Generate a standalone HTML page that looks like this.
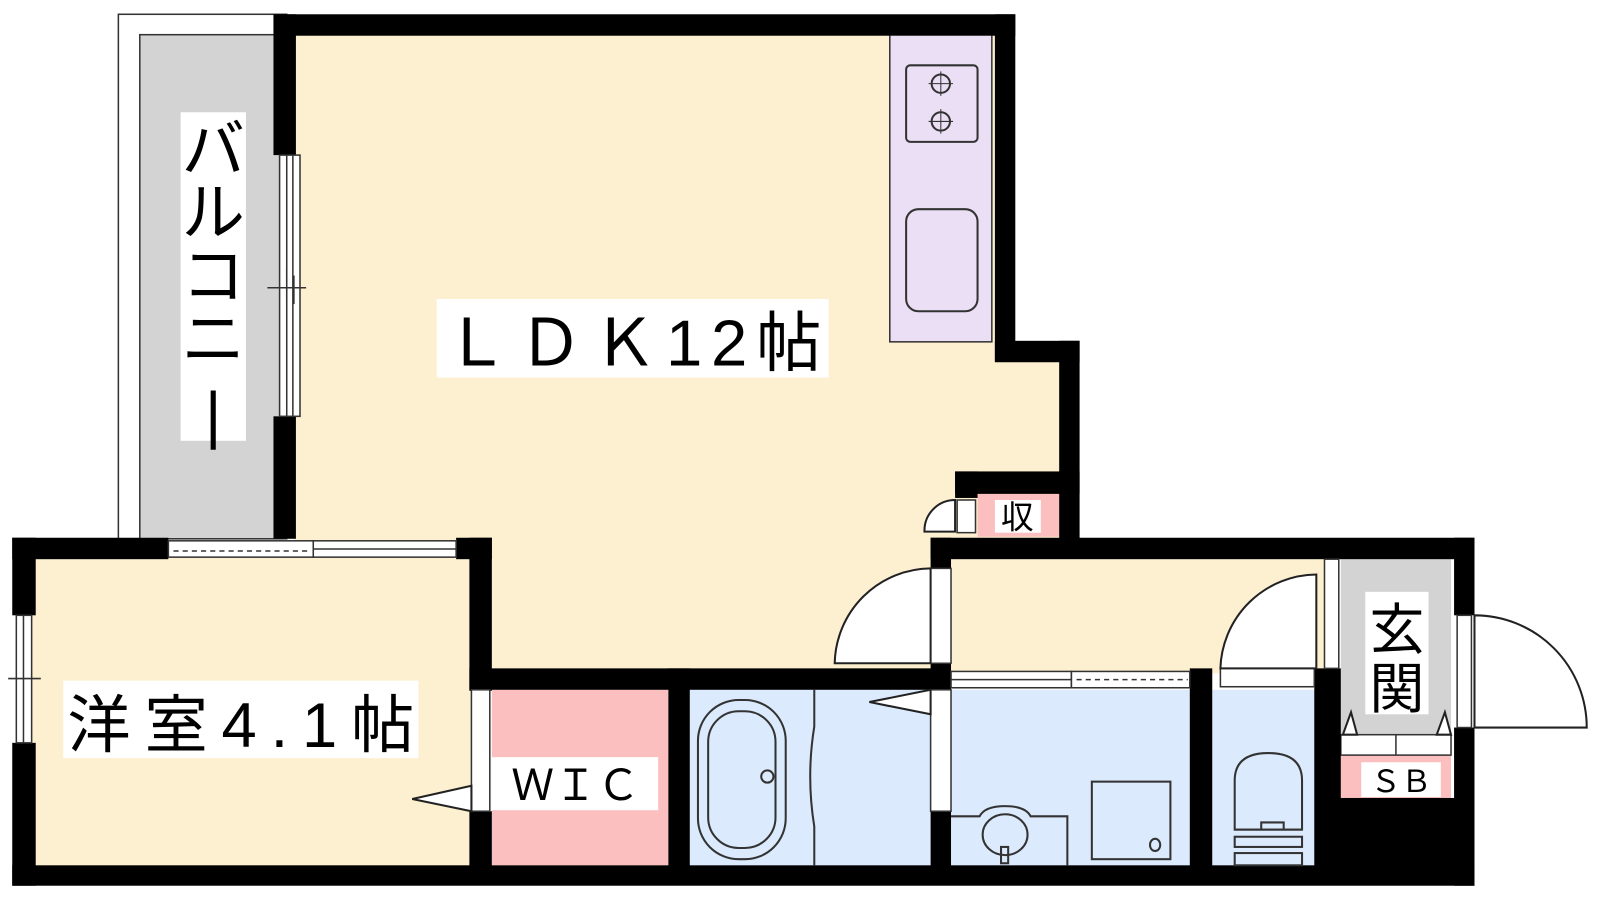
<!DOCTYPE html>
<html><head><meta charset="utf-8"><style>
html,body{margin:0;padding:0;background:#fff;width:1600px;height:900px;overflow:hidden}
svg{display:block}
text{font-family:"Liberation Sans","Noto Sans CJK JP",sans-serif}
</style></head><body>
<svg width="1600" height="900" viewBox="0 0 1568 882" preserveAspectRatio="none" xmlns="http://www.w3.org/2000/svg">
<!-- balcony -->
<rect x="116" y="14" width="165" height="514" fill="#fff" stroke="#333" stroke-width="1.5"/>
<rect x="137" y="34" width="140" height="494" fill="#d3d3d3" stroke="#333" stroke-width="1.5"/>
<!-- room fills -->
<rect x="288" y="34" width="690" height="630" fill="#fdf0d0"/>
<rect x="978" y="352" width="62" height="180" fill="#fdf0d0"/>
<rect x="30" y="545" width="435" height="305" fill="#fdf0d0"/>
<rect x="930" y="545" width="370" height="115" fill="#fdf0d0"/>
<rect x="872" y="34" width="100" height="301" fill="#ebdff5" stroke="#333" stroke-width="1.5"/>
<rect x="482" y="676" width="173" height="172" fill="#fcbfbf"/>
<rect x="676" y="676" width="236" height="172" fill="#dbeafc"/>
<rect x="932" y="676" width="234" height="172" fill="#dbeafc"/>
<rect x="1188" y="676" width="108" height="172" fill="#dbeafc"/>
<rect x="1314" y="548" width="108" height="172" fill="#d3d3d3"/>
<rect x="1314" y="740" width="108" height="42" fill="#fcbfbf"/>
<rect x="1314" y="720" width="108" height="20" fill="#fff" stroke="#333" stroke-width="1.5"/>
<line x1="1368" y1="720" x2="1368" y2="740" stroke="#333" stroke-width="1.5"/>
<rect x="958" y="484" width="80" height="42" fill="#fcbfbf"/>
<!-- walls -->
<g fill="#000">
<rect x="268" y="14" width="727" height="21"/>
<rect x="268" y="14" width="22" height="138"/>
<rect x="268" y="408" width="22" height="120"/>
<rect x="975" y="14" width="20" height="340"/>
<rect x="975" y="334" width="83" height="21"/>
<rect x="1038" y="334" width="20" height="213"/>
<rect x="936" y="462" width="122" height="22"/>
<rect x="936" y="462" width="22" height="26"/>
<rect x="912" y="527" width="533" height="21"/>
<rect x="912" y="527" width="20" height="30"/>
<rect x="1425" y="527" width="20" height="76"/>
<rect x="1425" y="713" width="20" height="155"/>
<rect x="12" y="527" width="153" height="21"/>
<rect x="447" y="527" width="35" height="21"/>
<rect x="12" y="527" width="23" height="76"/>
<rect x="12" y="728" width="23" height="140"/>
<rect x="12" y="848" width="1433" height="20"/>
<rect x="460" y="527" width="22" height="150"/>
<rect x="460" y="795" width="22" height="60"/>
<rect x="460" y="655" width="472" height="21"/>
<rect x="655" y="655" width="21" height="200"/>
<rect x="912" y="650" width="20" height="26"/>
<rect x="912" y="795" width="20" height="60"/>
<rect x="1166" y="655" width="22" height="200"/>
<rect x="1288" y="655" width="26" height="200"/>
<rect x="1296" y="782" width="130" height="70"/>
</g>
<!-- windows -->
<g fill="#fff" stroke="#333" stroke-width="1.5">
<rect x="274" y="152" width="20" height="256"/>
<rect x="165" y="530" width="142" height="16"/>
<rect x="307" y="530" width="140" height="16"/>
<rect x="16" y="603" width="15" height="125"/>
<rect x="932" y="658" width="118" height="16"/>
<rect x="1050" y="658" width="116" height="16"/>
<rect x="1298" y="548" width="14" height="107"/>
<rect x="1428" y="603" width="14" height="110"/>
<rect x="462" y="676" width="18" height="119"/>
<rect x="912" y="557" width="20" height="93"/>
<rect x="912" y="676" width="20" height="119"/>
<rect x="1196" y="655" width="92" height="18"/>
<rect x="938" y="490" width="18" height="32"/>
</g>
<g stroke="#333" stroke-width="1.5" fill="none">
<line x1="281" y1="152" x2="281" y2="408"/><line x1="287" y1="152" x2="287" y2="408"/>
<line x1="262" y1="282" x2="300" y2="282"/><line x1="281" y1="262" x2="281" y2="292"/><line x1="288" y1="270" x2="288" y2="298"/>
<line x1="170" y1="540" x2="305" y2="540" stroke-dasharray="5,4"/>
<line x1="307" y1="538" x2="447" y2="538"/>
<line x1="23" y1="603" x2="23" y2="728"/><line x1="8" y1="665" x2="40" y2="665"/>
<line x1="1055" y1="666" x2="1164" y2="666" stroke-dasharray="5,4"/>
<line x1="932" y1="666" x2="1050" y2="666"/>
</g>
<!-- doors -->
<g fill="#fff" stroke="#222" stroke-width="2">
<path d="M912 557 A95 95 0 0 0 818 650 L912 650 Z"/>
<path d="M1290 563 A95 95 0 0 0 1196 655 L1290 655 Z"/>
<path d="M1445 603 A110 110 0 0 1 1555 713 L1445 713 Z"/>
<path d="M936 490 A30 30 0 0 0 906 521 L936 521 Z"/>
<path d="M462 770 L404 783 L462 795 Z"/>
<path d="M912 676 L852 688 L912 700 Z"/>
<path d="M1316 720 L1324 698 L1330 720 Z"/>
<path d="M1408 720 L1416 698 L1422 720 Z"/>
</g>
<!-- fixtures -->
<g fill="none" stroke="#333" stroke-width="2">
<rect x="888" y="64" width="70" height="75" rx="4"/>
<circle cx="922" cy="82" r="9"/><circle cx="922" cy="119" r="9"/>
<path d="M910 82h24M922 70v24M910 119h24M922 107v24" stroke-width="1"/>
<rect x="888" y="205" width="70" height="100" rx="12"/>
<rect x="684" y="686" width="86" height="156" rx="40"/>
<rect x="694" y="697" width="66" height="134" rx="30"/>
<circle cx="752" cy="761" r="6"/>
<path d="M798 676 L798 712 Q790 761 798 810 L798 848"/>
<path d="M932 800 L960 800 Q965 790 985 790 Q1005 790 1010 800 L1046 800 L1046 848"/>
<ellipse cx="985" cy="818" rx="22" ry="20"/>
<rect x="981" y="830" width="7" height="16"/>
<rect x="1070" y="766" width="77" height="76"/>
<ellipse cx="1132" cy="828" rx="5" ry="6"/>
<path d="M1210 813 L1210 765 Q1210 738 1243 738 Q1276 738 1276 765 L1276 813 Z"/>
<path d="M1210 813 L1276 813 M1236 813 L1236 806 L1258 806 L1258 813"/>
<rect x="1210" y="820" width="66" height="10"/>
<rect x="1210" y="836" width="66" height="12"/>
</g>
<!-- labels -->
<rect x="428" y="293" width="384" height="77" fill="#fff"/>
<text x="620" y="358" font-size="64" text-anchor="middle" textLength="370">ＬＤＫ12帖</text>
<rect x="62" y="667" width="348" height="76" fill="#fff"/>
<text x="236" y="732" font-size="62" text-anchor="middle" textLength="340">洋室4.1帖</text>
<rect x="482" y="742" width="163" height="52" fill="#fff"/>
<text x="564" y="784" font-size="42" text-anchor="middle">ＷＩＣ</text>
<rect x="177" y="110" width="64" height="322" fill="#fff"/>
<text x="209" y="168" font-size="62" text-anchor="middle">バ</text>
<text x="209" y="230" font-size="62" text-anchor="middle">ル</text>
<text x="209" y="292" font-size="62" text-anchor="middle">コ</text>
<text x="209" y="354" font-size="62" text-anchor="middle">ニ</text>
<text x="209" y="428" font-size="62" text-anchor="middle">|</text>
<rect x="975" y="490" width="45" height="32" fill="#fff"/>
<text x="997" y="518" font-size="32" text-anchor="middle">収</text>
<rect x="1338" y="580" width="62" height="120" fill="#fff"/>
<text x="1369" y="636" font-size="54" text-anchor="middle">玄</text>
<text x="1369" y="694" font-size="54" text-anchor="middle">関</text>
<rect x="1334" y="747" width="78" height="34" fill="#fff"/>
<text x="1373" y="776" font-size="30" text-anchor="middle">ＳＢ</text>
</svg>
</body></html>
